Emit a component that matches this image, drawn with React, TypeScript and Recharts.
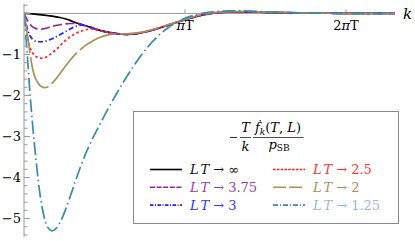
import {
  LineChart,
  Line,
  XAxis,
  YAxis,
  ReferenceLine,
  ReferenceDot,
  Legend
} from 'recharts'

// k in units of T
const kValues = [0, 0.04, 0.08, 0.12, 0.16, 0.2, 0.25, 0.3, 0.35, 0.4, 0.45, 0.5, 0.55, 0.6, 0.7, 0.8, 0.9, 1.0, 1.1, 1.2, 1.3, 1.45, 1.6, 1.8, 2.0, 2.2, 2.4, 2.6, 2.8, 3.0, 3.2, 3.4, 3.6, 3.8, 4.0, 4.3, 4.6, 5.0, 5.5, 6.0, 6.5, 7.0, 7.24]

const ltInf = [0, -0.002, -0.005, -0.008, -0.012, -0.016, -0.021, -0.027, -0.034, -0.042, -0.05, -0.058, -0.067, -0.077, -0.1, -0.13, -0.17, -0.22, -0.26, -0.3, -0.34, -0.4, -0.45, -0.49, -0.51, -0.49, -0.44, -0.37, -0.29, -0.21, -0.13, -0.06, -0.01, 0.02, 0.035, 0.04, 0.03, 0.02, 0.01, 0.004, 0, 0, 0]
const lt375 = [0, -0.1, -0.2, -0.27, -0.32, -0.35, -0.375, -0.385, -0.38, -0.37, -0.355, -0.335, -0.315, -0.3, -0.275, -0.255, -0.245, -0.245, -0.265, -0.3, -0.34, -0.4, -0.45, -0.49, -0.51, -0.49, -0.44, -0.37, -0.29, -0.21, -0.13, -0.06, -0.01, 0.02, 0.035, 0.04, 0.03, 0.02, 0.01, 0.004, 0, 0, 0]
const lt3 = [0, -0.25, -0.43, -0.55, -0.62, -0.66, -0.685, -0.69, -0.69, -0.68, -0.665, -0.64, -0.615, -0.59, -0.52, -0.45, -0.38, -0.32, -0.285, -0.3, -0.34, -0.4, -0.45, -0.49, -0.51, -0.49, -0.44, -0.37, -0.29, -0.21, -0.13, -0.06, -0.01, 0.02, 0.035, 0.04, 0.03, 0.02, 0.01, 0.004, 0, 0, 0]
const lt25 = [0, -0.35, -0.66, -0.84, -0.95, -1.02, -1.06, -1.085, -1.09, -1.08, -1.05, -1.01, -0.96, -0.91, -0.79, -0.67, -0.57, -0.49, -0.44, -0.4, -0.38, -0.41, -0.45, -0.49, -0.51, -0.49, -0.44, -0.37, -0.29, -0.21, -0.13, -0.06, -0.01, 0.02, 0.035, 0.04, 0.03, 0.02, 0.01, 0.004, 0, 0, 0]
const lt2 = [0, -0.3, -0.62, -1.0, -1.3, -1.5, -1.65, -1.74, -1.79, -1.81, -1.8, -1.76, -1.7, -1.63, -1.47, -1.3, -1.14, -1.0, -0.88, -0.78, -0.7, -0.6, -0.535, -0.5, -0.495, -0.475, -0.43, -0.36, -0.28, -0.2, -0.12, -0.05, 0, 0.03, 0.045, 0.05, 0.04, 0.025, 0.01, 0.004, 0, 0, 0]
const lt125 = [0, -0.6, -1.3, -2.0, -2.6, -3.15, -3.75, -4.3, -4.7, -5.0, -5.18, -5.27, -5.3, -5.27, -5.1, -4.82, -4.47, -4.1, -3.75, -3.43, -3.15, -2.78, -2.42, -1.97, -1.55, -1.17, -0.84, -0.57, -0.36, -0.2, -0.09, -0.02, 0.025, 0.05, 0.06, 0.06, 0.045, 0.03, 0.012, 0.005, 0, 0, 0]

const seriesKeys = ['inf', 'l375', 'l3', 'l25', 'l2', 'l125']
const seriesValues = [ltInf, lt375, lt3, lt25, lt2, lt125]
const seriesLabels = ['\u221e', '3.75', '3', '2.5', '2', '1.25']
const lineColors = ['#000000', '#93279a', '#1f1fff', '#ff1f1f', '#a8915a', '#3b8ba5']
const textColors = ['#111111', '#a23ca6', '#3333ff', '#ff3333', '#a8915a', '#98b6d8']
const plotDash = ['', '9 3.5', '5 2.5 1.2 2.5', '2.5 2.5', '40 4', '13 3.5 1.5 3.5']
const legendDash = ['', '5 1.6', '3.5 1.5 1 1.5', '2.6 1.2', '13 3', '5 2 1 2']

const yTicks = [0.2, 0, -0.2, -0.4, -0.6, -0.8, -1, -1.2, -1.4, -1.6, -1.8, -2, -2.2, -2.4, -2.6, -2.8, -3, -3.2, -3.4, -3.6, -3.8, -4, -4.2, -4.4, -4.6, -4.8, -5, -5.2, -5.4]
const xTicks = [Math.PI, 2 * Math.PI]
const xTickPrefix = ['', '2']

const data = kValues.map((k, i) => {
  const row: Record<string, number> = { k }
  seriesKeys.forEach((key, s) => { row[key] = seriesValues[s][i] })
  return row
})

const serif = 'DejaVu Serif, Liberation Serif, serif'
const axisGray = '#9a9a9a'

function YTick(props: any) {
  const { x, y, payload } = props
  const v = payload.value
  const major = Math.abs(v - Math.round(v)) < 1e-6
  return (
    <g>
      <line x1={x} x2={x + (major ? 6 : 3.5)} y1={y} y2={y} stroke={axisGray} />
      {major && v < 0 && (
        <text x={x - 3} y={y} dy="0.36em" textAnchor="end" style={{ fontFamily: serif, fontSize: 13 }} fill="#000">
          {'\u2212' + Math.abs(v)}
        </text>
      )}
    </g>
  )
}

function xTickLabel(prefix: string) {
  return (props: any) => {
    const vb = props.viewBox
    return (
      <text x={vb.x + vb.width / 2} y={vb.y + 17} textAnchor="middle" style={{ fontFamily: serif, fontSize: 13 }} fill="#000">
        {prefix}<tspan fontStyle="italic">π</tspan>T
      </text>
    )
  }
}

function LegendBox(props: any) {
  const payload = props.payload || []
  return (
    <svg width={266} height={113} style={{ display: 'block', fontFamily: serif }}>
      <rect x={0.5} y={0.5} width={265} height={112} fill="#fff" stroke="#8a8a8a" />
      <g fontSize={13} fill="#000">
        <line x1={97} x2={104} y1={26.5} y2={26.5} stroke="#000" strokeWidth={0.8} />
        <text x={112.5} y={20.5} textAnchor="middle" fontStyle="italic">T</text>
        <line x1={107} x2={118} y1={26.5} y2={26.5} stroke="#000" strokeWidth={0.7} />
        <text x={112.5} y={40} textAnchor="middle" fontStyle="italic">k</text>
        <text x={145} y={20.5} textAnchor="middle">
          <tspan fontStyle="italic">ḟ</tspan>
          <tspan fontStyle="italic" fontSize={9} dy={3}>k</tspan>
          <tspan dy={-3}>(</tspan>
          <tspan fontStyle="italic">T</tspan>
          <tspan>, </tspan>
          <tspan fontStyle="italic">L</tspan>
          <tspan>)</tspan>
        </text>
        <line x1={120} x2={170.5} y1={26.5} y2={26.5} stroke="#000" strokeWidth={0.7} />
        <text x={146} y={38} textAnchor="middle">
          <tspan fontStyle="italic">p</tspan>
          <tspan fontSize={9} dy={2}>SB</tspan>
        </text>
      </g>
      {payload.map((entry: any, i: number) => {
        const s = seriesKeys.indexOf(entry.dataKey)
        const idx = s < 0 ? i : s
        const col = Math.floor(idx / 3)
        const row = idx % 3
        const sx = col === 0 ? 17 : 140
        const cy = 58.5 + row * 17.8
        return (
          <g key={entry.dataKey}>
            <line x1={sx} x2={sx + 32} y1={cy} y2={cy} stroke={lineColors[idx]} strokeWidth={1.6}
              strokeDasharray={legendDash[idx] || undefined} />
            <text x={sx + 40} y={cy + 4.5} fontSize={13} fill={textColors[idx]}>
              <tspan fontStyle="italic">L</tspan>
              <tspan fontStyle="italic" dx={3}>T</tspan>
              <tspan dx={4}>{'\u2192'}</tspan>
              <tspan dx={4}>{seriesLabels[idx]}</tspan>
            </text>
          </g>
        )
      })}
    </svg>
  )
}

export default function App() {
  return (
    <div style={{ position: 'absolute', left: 0, top: 0, background: '#fff' }}>
      <LineChart width={415} height={241} data={data} margin={{ top: 4, right: 20, bottom: 4, left: 0 }}>
        <XAxis dataKey="k" type="number" domain={[0, 7.24]} hide allowDataOverflow />
        <YAxis
          type="number"
          width={24}
          domain={[-5.45, 0.23]}
          allowDataOverflow
          ticks={yTicks}
          interval={0}
          stroke={axisGray}
          tickLine={false}
          tickSize={0}
          tickMargin={0}
          tick={YTick}
        />
        <ReferenceLine
          y={0}
          stroke={axisGray}
          label={{ value: 'k', position: 'right', offset: 8, fill: '#000', fontSize: 15, fontStyle: 'italic', fontFamily: serif }}
        />
        {xTicks.map((t) => (
          <ReferenceLine key={'t' + t} segment={[{ x: t, y: 0 }, { x: t, y: 0.1 }]} stroke={axisGray} />
        ))}
        {xTicks.map((t, i) => (
          <ReferenceDot key={'d' + t} x={t} y={0} r={0} fill="none" stroke="none" label={xTickLabel(xTickPrefix[i])} />
        ))}
        {seriesKeys.map((key, s) => (
          <Line
            key={key}
            dataKey={key}
            name={seriesLabels[s]}
            type="monotone"
            stroke={lineColors[s]}
            strokeWidth={1.7}
            strokeDasharray={plotDash[s] || undefined}
            dot={false}
            activeDot={false}
            isAnimationActive={false}
          />
        ))}
        <Legend
          layout="vertical"
          align="center"
          verticalAlign="middle"
          width={266}
          height={113}
          wrapperStyle={{ left: 133, top: 111, width: 266, height: 113 }}
          content={LegendBox}
        />
      </LineChart>
    </div>
  )
}
